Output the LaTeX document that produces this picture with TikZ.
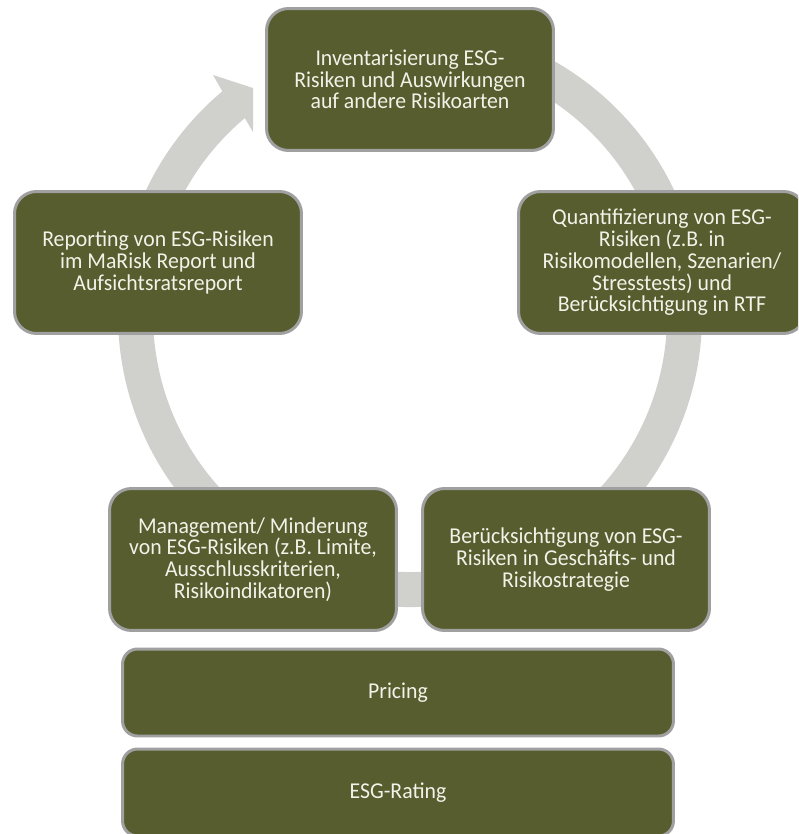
\documentclass[tikz,border=0pt]{standalone}
\usepackage{fontspec}
\setmainfont{Carlito}[FakeStretch=0.96]
\definecolor{esgolive}{RGB}{87,93,46}
\definecolor{esgframe}{RGB}{160,160,160}
\definecolor{esgtext}{RGB}{242,242,232}
\definecolor{esgring}{RGB}{208,208,204}
\begin{document}
\begin{tikzpicture}[x=0.02cm,y=-0.02cm,
  cbox/.style={draw=esgframe,line width=0.06cm,fill=esgolive,text=esgtext,rounded corners=0.44cm,align=center,inner sep=0pt,minimum width=5.74cm,minimum height=2.84cm,font=\fontsize{12.9}{12.4}\selectfont},
  bar/.style={cbox,rounded corners=0.3cm,minimum width=11.02cm,minimum height=1.74cm}]
\useasboundingbox (0,0) rectangle (798,834);
\clip (0,0) rectangle (798,834);
\pgfmathsetmacro{\rr}{274.5}
\pgfmathsetmacro{\ro}{292}
\pgfmathsetmacro{\ri}{257}
\begin{scope}[shift={(410,315)}]
\draw[esgring,line width=0.7cm] (-100:\rr) arc[start angle=-100,end angle=231,radius=\rr];
\fill[esgring] (230:\ro)--(-197,-240)--(-157,-227)--(-157,-183)--(230:\ri)--cycle;
\end{scope}
\node[cbox] (inv) at (410,79.5) {Inventarisierung ESG-\\Risiken und Auswirkungen\\auf andere Risikoarten};
\node[cbox] (quant) at (662,262.5) {Quantifizierung von ESG-\\Risiken (z.B. in\\Risikomodellen, Szenarien/\\Stresstests) und\\Berücksichtigung in RTF};
\node[cbox] (rep) at (158,262.5) {Reporting von ESG-Risiken\\im MaRisk Report und\\Aufsichtsratsreport};
\node[cbox] (mgmt) at (253,559.5) {Management/ Minderung\\von ESG-Risiken (z.B. Limite,\\Ausschlusskriterien,\\Risikoindikatoren)};
\node[cbox] (strat) at (566,559.5) {Berücksichtigung von ESG-\\Risiken in Geschäfts- und\\Risikostrategie};
\foreach \n/\yc/\t in {pricing/692.5/Pricing,rating/792.5/ESG-Rating}{\node[bar] (\n) at (398,\yc) {\t};}
\end{tikzpicture}
\end{document}
